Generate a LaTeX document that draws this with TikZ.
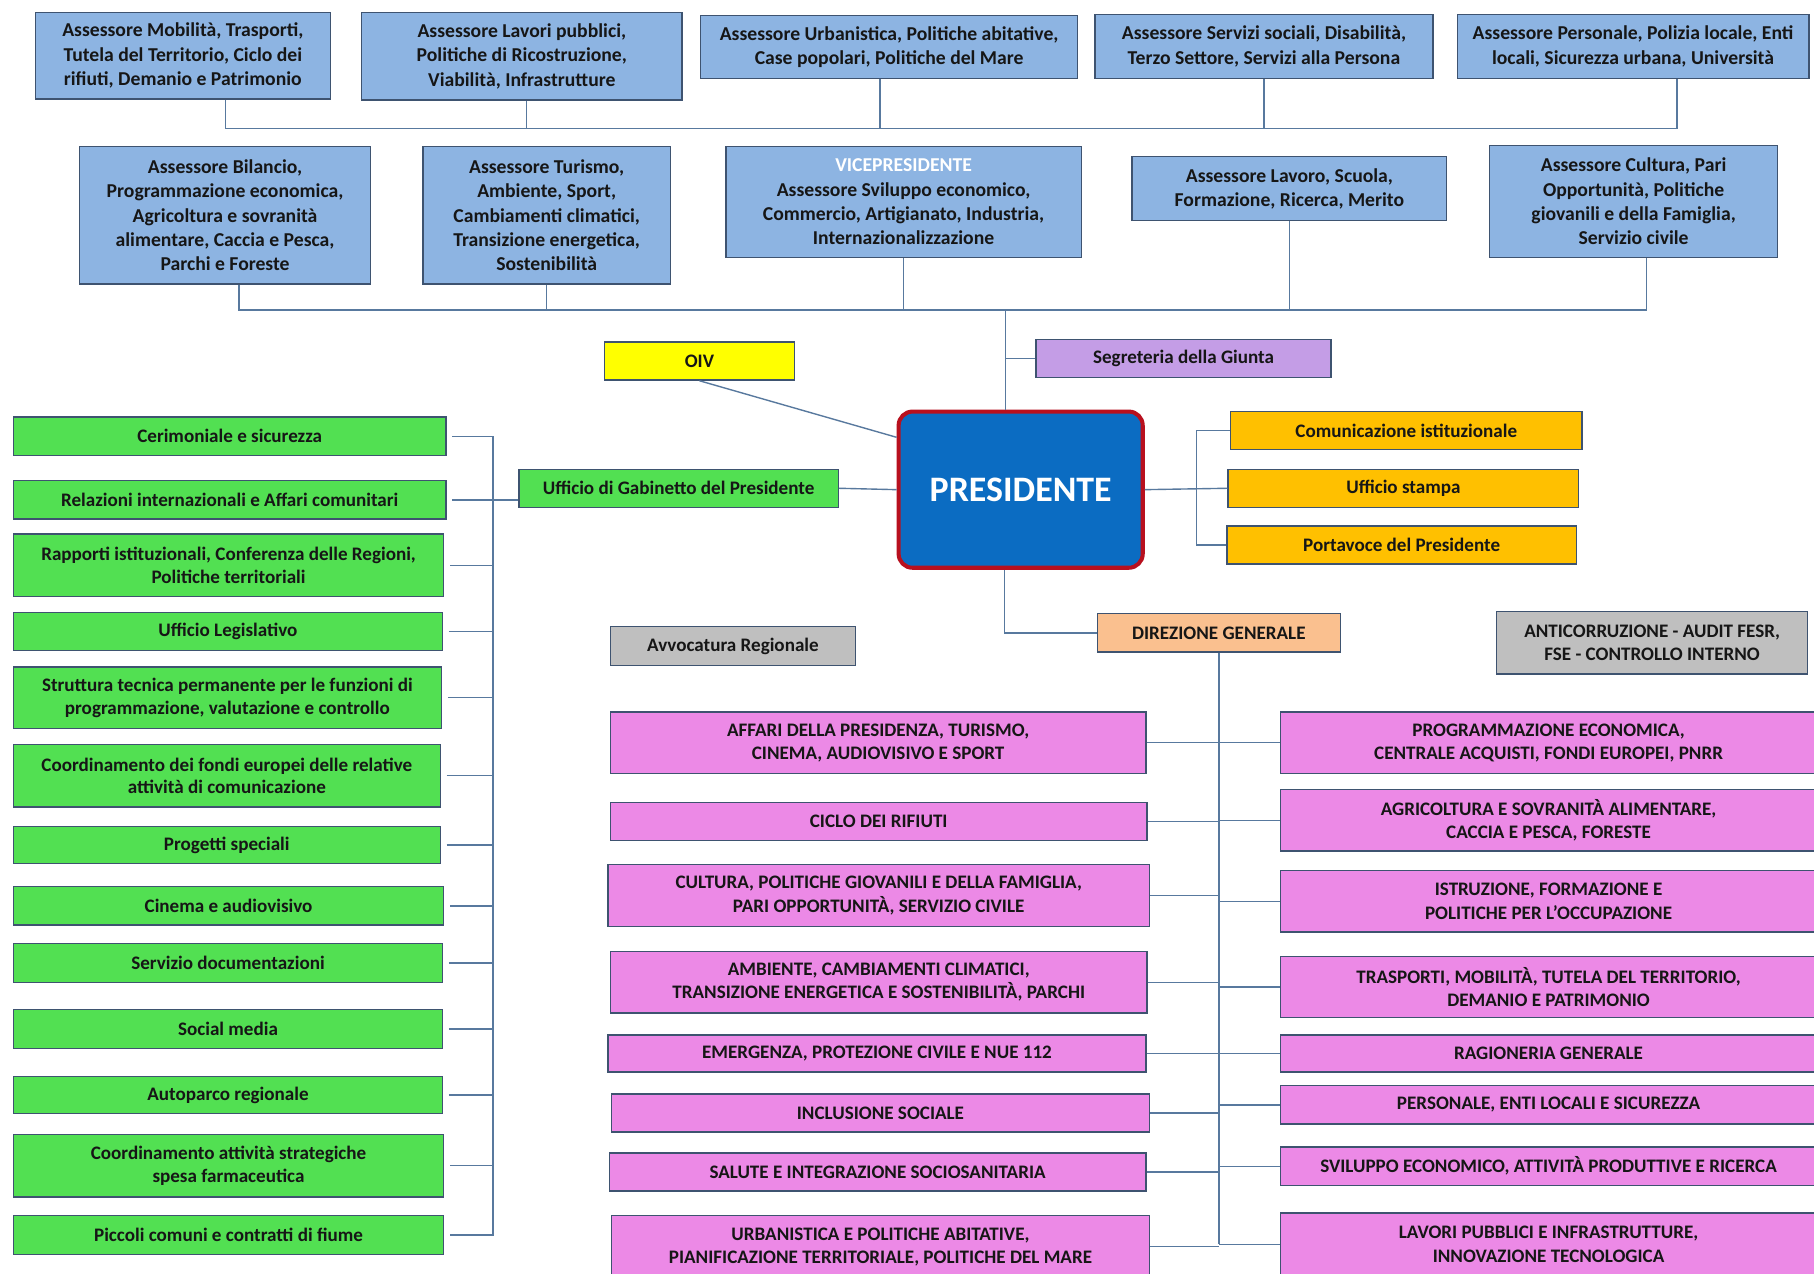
\documentclass[tikz,border=0pt]{standalone}
\usepackage{fontspec}
\setmainfont{Carlito}
\usetikzlibrary{positioning}
\definecolor{ink}{HTML}{161616}
\definecolor{edge}{HTML}{3E5370}
\definecolor{wire}{HTML}{58799E}
\definecolor{assess}{HTML}{8DB4E2}
\definecolor{staff}{HTML}{52E052}
\definecolor{dept}{HTML}{EC89E6}
\definecolor{press}{HTML}{FFC000}
\definecolor{lilac}{HTML}{C49DE6}
\definecolor{peach}{HTML}{FAC08F}
\definecolor{neutral}{HTML}{BFBFBF}
\definecolor{oivyel}{HTML}{FFFF00}
\definecolor{presfill}{HTML}{0B6CC2}
\definecolor{presrim}{HTML}{B8101E}

\begin{document}
\begin{tikzpicture}[
  x=1pt, y=-1pt,
  wh/.style 2 args = {minimum width=#1, minimum height=#2},
  box/.style  = {draw=edge, line width=1.1pt, align=center, anchor=north west,
                 inner sep=2pt, text=ink, font=\fontsize{16.5}{19.5}\selectfont\bfseries},
  blu/.style  = {box, fill=assess, font=\fontsize{17}{21}\selectfont\bfseries},
  grn/.style  = {box, fill=staff},
  pnk/.style  = {box, fill=dept, font=\fontsize{16.5}{20}\selectfont\bfseries},
  org/.style  = {box, fill=press},
  gry/.style  = {box, fill=neutral},
  pres/.style = {draw=presrim, line width=3.5pt, rounded corners=12pt, fill=presfill,
                 anchor=north west, text=white, font=\fontsize{31}{36}\selectfont\bfseries},
  ln/.style   = {draw=wire, line width=1.2pt},
]
\useasboundingbox (0,0) rectangle (1568,1101);
\fill[white] (0,0) rectangle (1568,1101);
\clip (0,0) rectangle (1568,1101);

% ---------- assessori, first row ----------
\node[blu, wh={255}{75}] (mob) at (30,10)
  {Assessore Mobilità, Trasporti,\\ Tutela del Territorio, Ciclo dei\\ rifiuti, Demanio e Patrimonio};
\node[blu, wh={277}{76}] (lav) at (312,10)
  {Assessore Lavori pubblici,\\ Politiche di Ricostruzione,\\ Viabilità, Infrastrutture};
\node[blu, wh={326}{54}] (urb) at (605,13)
  {Assessore Urbanistica, Politiche abitative,\\ Case popolari, Politiche del Mare};
\node[blu, wh={292}{55}] (soc) at (946,12)
  {Assessore Servizi sociali, Disabilità,\\ Terzo Settore, Servizi alla Persona};
\node[blu, wh={304}{55}] (per) at (1259,12)
  {Assessore Personale, Polizia locale, Enti\\ locali, Sicurezza urbana, Università};

% ---------- assessori, second row ----------
\node[blu, wh={252}{119}] (bil) at (68,126)
  {Assessore Bilancio,\\ Programmazione economica,\\ Agricoltura e sovranità\\ alimentare, Caccia e Pesca,\\ Parchi e Foreste};
\node[blu, wh={214}{119}] (tur) at (365,126)
  {Assessore Turismo,\\ Ambiente, Sport,\\ Cambiamenti climatici,\\ Transizione energetica,\\ Sostenibilità};
\node[blu, wh={307}{96}] (vic) at (627,126)
  {\textcolor{white}{VICEPRESIDENTE}\\ Assessore Sviluppo economico,\\ Commercio, Artigianato, Industria,\\ Internazionalizzazione};
\node[blu, wh={272}{55}] (lvr) at (978,135)
  {Assessore Lavoro, Scuola,\\ Formazione, Ricerca, Merito};
\node[blu, wh={249}{97}] (cul) at (1287,125)
  {Assessore Cultura, Pari\\ Opportunità, Politiche\\ giovanili e della Famiglia,\\ Servizio civile};

% ---------- president and staff ----------
\node[box, fill=oivyel, wh={164}{33}] (oiv) at (522,295) {OIV};
\node[box, fill=lilac, wh={255}{33}] (seg) at (895,293) {Segreteria della Giunta};
\node[pres, wh={211}{135}] (pres) at (775,354) {PRESIDENTE};
\node[grn, wh={276}{33}] (gab) at (448,405) {Ufficio di Gabinetto del Presidente};
\node[org, wh={304}{33}] (com) at (1063,355) {Comunicazione istituzionale};
\node[org, wh={303}{33}] (stp) at (1061,405) {Ufficio stampa};
\node[org, wh={302}{33}] (port) at (1060,454) {Portavoce del Presidente};
\node[box, fill=peach, wh={210}{33}] (dg) at (948,530) {DIREZIONE GENERALE};
\node[gry, wh={212}{34}] (avv) at (527,541) {Avvocatura Regionale};
\node[gry, wh={269}{54}] (anti) at (1293,528) {ANTICORRUZIONE - AUDIT FESR,\\ FSE - CONTROLLO INTERNO};

% ---------- gabinetto offices ----------
\node[grn, wh={374}{33}] (cer) at (11,360) {Cerimoniale e sicurezza};
\node[grn, wh={374}{33}] (rel) at (11,415) {Relazioni internazionali e Affari comunitari};
\node[grn, wh={372}{54}] (rap) at (11,461) {Rapporti istituzionali, Conferenza delle Regioni,\\ Politiche territoriali};
\node[grn, wh={371}{33}] (leg) at (11,529) {Ufficio Legislativo};
\node[grn, wh={370}{53}] (stt) at (11,576) {Struttura tecnica permanente per le funzioni di\\ programmazione, valutazione e controllo};
\node[grn, wh={369}{54}] (fon) at (11,643) {Coordinamento dei fondi europei delle relative\\ attività di comunicazione};
\node[grn, wh={369}{32}] (prs) at (11,714) {Progetti speciali};
\node[grn, wh={372}{33}] (cin) at (11,766) {Cinema e audiovisivo};
\node[grn, wh={371}{34}] (doc) at (11,815) {Servizio documentazioni};
\node[grn, wh={371}{34}] (smd) at (11,872) {Social media};
\node[grn, wh={371}{32}] (apr) at (11,930) {Autoparco regionale};
\node[grn, wh={372}{54}] (frm) at (11,980) {Coordinamento attività strategiche\\ spesa farmaceutica};
\node[grn, wh={372}{34}] (pcc) at (11,1050) {Piccoli comuni e contratti di fiume};

% ---------- departments, left column ----------
\node[pnk, wh={463}{53}] (aff) at (527,615) {AFFARI DELLA PRESIDENZA, TURISMO,\\ CINEMA, AUDIOVISIVO E SPORT};
\node[pnk, wh={464}{33}] (cic) at (527,693) {CICLO DEI RIFIUTI};
\node[pnk, wh={468}{53}] (clt) at (525,747) {CULTURA, POLITICHE GIOVANILI E DELLA FAMIGLIA,\\ PARI OPPORTUNITÀ, SERVIZIO CIVILE};
\node[pnk, wh={464}{53}] (amb) at (527,822) {AMBIENTE, CAMBIAMENTI CLIMATICI,\\ TRANSIZIONE ENERGETICA E SOSTENIBILITÀ, PARCHI};
\node[pnk, wh={465}{32}] (eme) at (525,894) {EMERGENZA, PROTEZIONE CIVILE E NUE 112};
\node[pnk, wh={465}{33}] (inc) at (528,945) {INCLUSIONE SOCIALE};
\node[pnk, wh={464}{33}] (sal) at (526,996) {SALUTE E INTEGRAZIONE SOCIOSANITARIA};
\node[pnk, wh={465}{54}] (upt) at (528,1050) {URBANISTICA E POLITICHE ABITATIVE,\\ PIANIFICAZIONE TERRITORIALE, POLITICHE DEL MARE};

% ---------- departments, right column ----------
\node[pnk, wh={464}{53}] (prg) at (1106,615) {PROGRAMMAZIONE ECONOMICA,\\ CENTRALE ACQUISTI, FONDI EUROPEI, PNRR};
\node[pnk, wh={464}{53}] (agr) at (1106,682) {AGRICOLTURA E SOVRANITÀ ALIMENTARE,\\ CACCIA E PESCA, FORESTE};
\node[pnk, wh={464}{53}] (ist) at (1106,752) {ISTRUZIONE, FORMAZIONE E\\ POLITICHE PER L’OCCUPAZIONE};
\node[pnk, wh={464}{53}] (tra) at (1106,826) {TRASPORTI, MOBILITÀ, TUTELA DEL TERRITORIO,\\ DEMANIO E PATRIMONIO};
\node[pnk, wh={464}{32}] (rag) at (1106,894) {RAGIONERIA GENERALE};
\node[pnk, wh={464}{33}] (prl) at (1106,938) {PERSONALE, ENTI LOCALI E SICUREZZA};
\node[pnk, wh={464}{33}] (svi) at (1106,991) {SVILUPPO ECONOMICO, ATTIVITÀ PRODUTTIVE E RICERCA};
\node[pnk, wh={464}{54}] (lpi) at (1106,1048) {LAVORI PUBBLICI E INFRASTRUTTURE,\\ INNOVAZIONE TECNOLOGICA};

% ---------- connectors: assessori ----------
\draw[ln] ([xshift=37]mob.south) -- ++(0,25) -| ([xshift=38]per.south);
\draw[ln] ([xshift=4]lav.south) -- ++(0,24);
\draw[ln] ([xshift=-8]urb.south) -- ++(0,43);
\draw[ln] (soc.south) -- ++(0,43);
\draw[ln] ([xshift=12]bil.south) -- ++(0,22) -| ([xshift=11]cul.south);
\draw[ln] (tur.south) -- ++(0,22);
\draw[ln] (vic.south) -- ++(0,45);
\draw[ln] (lvr.south) -- ++(0,77);

% ---------- connectors: president ----------
\coordinate (ptop) at ([xshift=-13]pres.north);
\coordinate (pbot) at ([xshift=-14]pres.south);
\draw[ln] (ptop) -- ++(0,-87);
\draw[ln] (seg.west) -- (seg.west -| ptop);
\draw[ln] (oiv.south) -- ([yshift=-24pt]pres.north west);
\draw[ln] (gab.east) -- (pres.west);
\draw[ln] (stp.west) -- (pres.east);
\draw[ln] (com.west) -- ++(-29,0) |- (port.west);
\draw[ln] (pbot) |- (dg.west);

% ---------- connectors: gabinetto ----------
\coordinate (gbus) at (426,0);
\draw[ln] ([xshift=5]cer.east) -| (gbus |- pcc.east) -- ([xshift=5]pcc.east);
\draw[ln] ([xshift=5]rel.east) -- (gab.west |- rel.east);
\draw[ln] ([xshift=5]rap.east) -- (rap.east -| gbus);
\draw[ln] ([xshift=5]leg.east) -- (leg.east -| gbus);
\draw[ln] ([xshift=5]stt.east) -- (stt.east -| gbus);
\draw[ln] ([xshift=5]fon.east) -- (fon.east -| gbus);
\draw[ln] ([xshift=5]prs.east) -- (prs.east -| gbus);
\draw[ln] ([xshift=5]cin.east) -- (cin.east -| gbus);
\draw[ln] ([xshift=5]doc.east) -- (doc.east -| gbus);
\draw[ln] ([xshift=5]smd.east) -- (smd.east -| gbus);
\draw[ln] ([xshift=5]apr.east) -- (apr.east -| gbus);
\draw[ln] ([xshift=5]frm.east) -- (frm.east -| gbus);

% ---------- connectors: direzione generale ----------
\draw[ln] (dg.south) -- (dg.south |- lpi.west);
\draw[ln] (aff.east) -- (aff.east -| dg.south);
\draw[ln] (cic.east) -- (cic.east -| dg.south);
\draw[ln] (clt.east) -- (clt.east -| dg.south);
\draw[ln] (amb.east) -- (amb.east -| dg.south);
\draw[ln] (eme.east) -- (eme.east -| dg.south);
\draw[ln] (inc.east) -- (inc.east -| dg.south);
\draw[ln] (sal.east) -- (sal.east -| dg.south);
\draw[ln] (upt.east) -- (upt.east -| dg.south);
\draw[ln] (prg.west) -- (prg.west -| dg.south);
\draw[ln] (agr.west) -- (agr.west -| dg.south);
\draw[ln] (ist.west) -- (ist.west -| dg.south);
\draw[ln] (tra.west) -- (tra.west -| dg.south);
\draw[ln] (rag.west) -- (rag.west -| dg.south);
\draw[ln] (prl.west) -- (prl.west -| dg.south);
\draw[ln] (svi.west) -- (svi.west -| dg.south);
\draw[ln] (lpi.west) -- (lpi.west -| dg.south);

\end{tikzpicture}
\end{document}
